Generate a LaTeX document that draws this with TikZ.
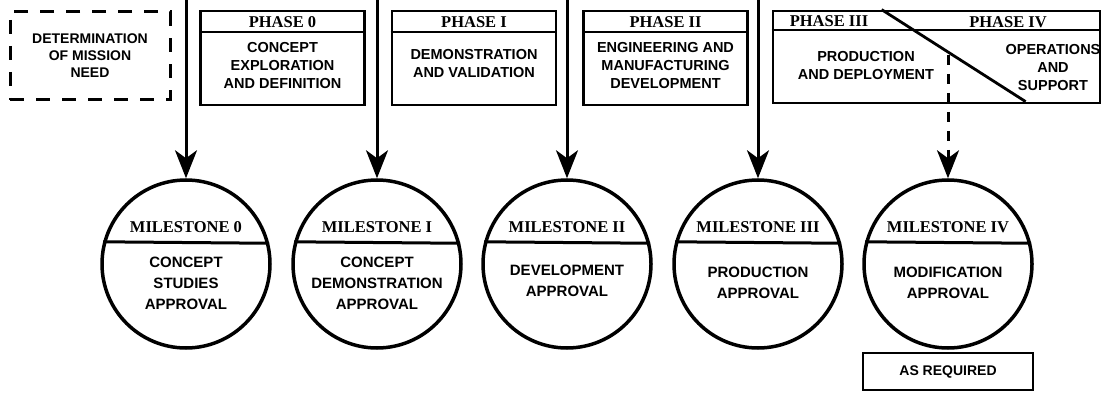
\documentclass[tikz,border=0pt]{standalone}
\usepackage{fontspec}
\setmainfont{Liberation Serif}
\setsansfont{Liberation Sans}
\usetikzlibrary{arrows.meta}

\begin{document}
\begin{tikzpicture}[x=1pt, y=-1pt,
    phasebox/.style={draw, rectangle, line width=2.8pt, minimum width=164pt, minimum height=94pt},
    needbox/.style={draw, rectangle, line width=3pt, dash pattern=on 14pt off 12pt, minimum width=160pt, minimum height=88pt,
        align=center, font=\sffamily\bfseries\fontsize{14}{17}\selectfont},
    milestone/.style={draw, circle, line width=3.5pt, minimum size=168pt, inner sep=0pt},
    head/.style={font=\bfseries\fontsize{16.5}{18}\selectfont, inner sep=0pt},
    body/.style={align=center, inner sep=0pt, font=\sffamily\bfseries\fontsize{14.5}{18}\selectfont},
    mbody/.style={align=center, inner sep=0pt, font=\sffamily\bfseries\fontsize{15}{21}\selectfont},
    arrow/.style={-{Stealth[length=28pt, width=22pt, inset=8pt]}, line width=3pt},
    dasharrow/.style={arrow, dash pattern=on 10pt off 9pt}
]
\useasboundingbox (0,0) rectangle (1103,393);

% Mission need
\node[needbox] (need) at (90,56) {DETERMINATION\\OF MISSION\\NEED};

% Phase boxes
\node[phasebox] (p0) at (282.5,58) {};
\node[phasebox] (p1) at (474,58) {};
\node[phasebox] (p2) at (665.5,58) {};
\node[phasebox, minimum width=327pt, minimum height=92pt] (p34) at (936.5,57) {};

\draw[line width=2pt] (p0.north west) ++(0,22) -- ++(164,0);
\draw[line width=2pt] (p1.north west) ++(0,22) -- ++(164,0);
\draw[line width=2pt] (p2.north west) ++(0,22) -- ++(164,0);
\draw[line width=2pt] (p34.north west) ++(0,20) -- ++(327,0);
\draw[line width=2.8pt] (p34.north west) ++(110,0) -- ++(144,92);

\node[head] (h0) at (282.5,22) {PHASE 0};
\node[head] (h1) at (474,22) {PHASE I};
\node[head] (h2) at (665.5,22) {PHASE II};
\node[head] (h3) at (829,21) {PHASE III};
\node[head] (h4) at (1008,22) {PHASE IV};

\node[body] (b0) at (282.5,66) {CONCEPT\\EXPLORATION\\AND DEFINITION};
\node[body] (b1) at (474,64) {DEMONSTRATION\\AND VALIDATION};
\node[body] (b2) at (665.5,66) {ENGINEERING AND\\MANUFACTURING\\DEVELOPMENT};
\node[body] (b3) at (866,66) {PRODUCTION\\AND DEPLOYMENT};
\node[body] (b4) at (1053,68) {OPERATIONS\\AND\\SUPPORT};

% Milestones
\node[milestone] (m0) at (186,264) {};
\node[milestone] (m1) at (377,264) {};
\node[milestone] (m2) at (567,264) {};
\node[milestone] (m3) at (758,264) {};
\node[milestone] (m4) at (948,264) {};

\draw[line width=3pt] (m0.165.5) -- (m0.14.5);
\draw[line width=3pt] (m1.165.5) -- (m1.14.5);
\draw[line width=3pt] (m2.165.5) -- (m2.14.5);
\draw[line width=3pt] (m3.165.5) -- (m3.14.5);
\draw[line width=3pt] (m4.165.5) -- (m4.14.5);

\node[head] (t0) at (186,227) {MILESTONE 0};
\node[head] (t1) at (377,227) {MILESTONE I};
\node[head] (t2) at (567,227) {MILESTONE II};
\node[head] (t3) at (758,227) {MILESTONE III};
\node[head] (t4) at (948,227) {MILESTONE IV};

\node[mbody] (c0) at (186,283) {CONCEPT\\STUDIES\\APPROVAL};
\node[mbody] (c1) at (377,283) {CONCEPT\\DEMONSTRATION\\APPROVAL};
\node[mbody] (c2) at (567,281) {DEVELOPMENT\\APPROVAL};
\node[mbody] (c3) at (758,283) {PRODUCTION\\APPROVAL};
\node[mbody] (c4) at (948,283) {MODIFICATION\\APPROVAL};

\node[draw, rectangle, line width=2.5pt, minimum width=170pt, minimum height=37pt,
    font=\sffamily\bfseries\fontsize{14}{16}\selectfont] (req) at (948,371.5) {AS REQUIRED};

% Arrows to milestones
\coordinate (s0) at (186,0);
\coordinate (s1) at (377,0);
\coordinate (s2) at (567,0);
\coordinate (s3) at (758,0);
\coordinate (s4) at (948,55);
\draw[arrow] (s0) -- (m0);
\draw[arrow] (s1) -- (m1);
\draw[arrow] (s2) -- (m2);
\draw[arrow] (s3) -- (m3);
\draw[dasharrow] (s4) -- (m4);

\end{tikzpicture}
\end{document}
